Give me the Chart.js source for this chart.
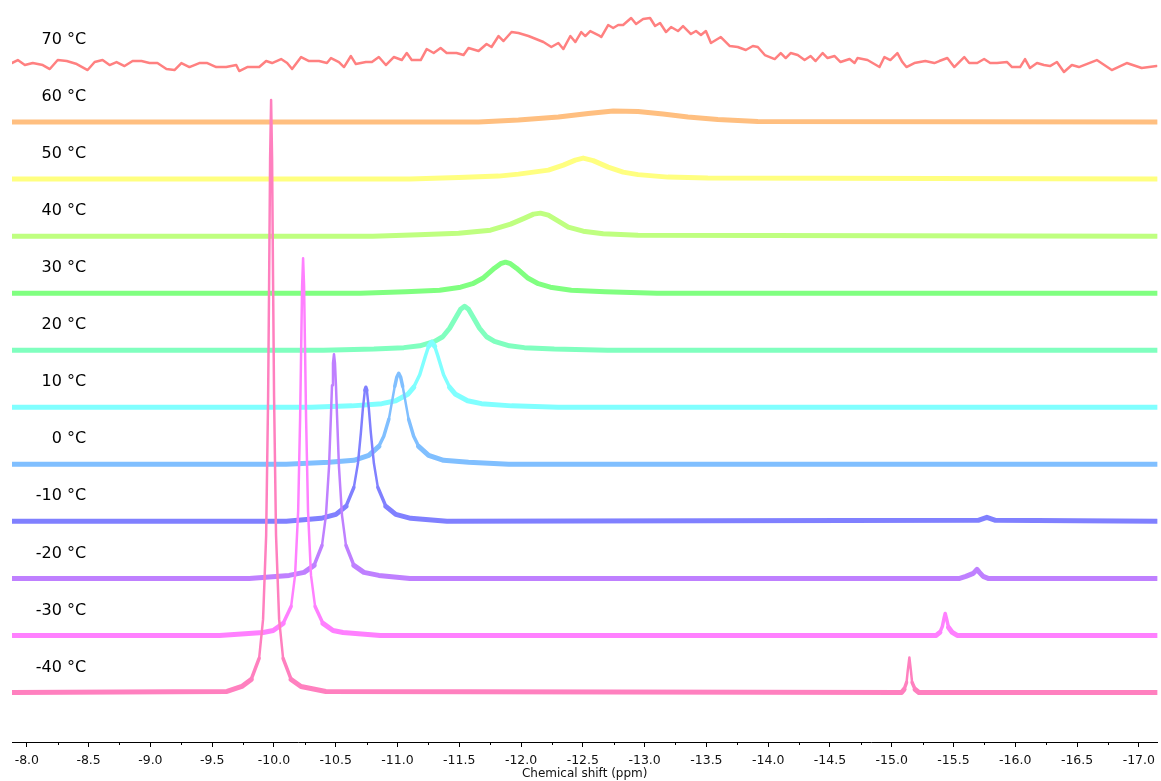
<!DOCTYPE html>
<html>
<head>
<meta charset="utf-8">
<title>Variable temperature spectra</title>
<script src="https://cdn.jsdelivr.net/npm/chart.js@4.4.1/dist/chart.umd.min.js"></script>
<style>
  html, body { margin: 0; padding: 0; background: #fff; }
  #wrap { width: 1161px; height: 781px; position: relative; }
</style>
</head>
<body>
<div id="wrap"><canvas id="nmrChart"></canvas></div>
<script>
// temperatures, bottom trace first
const tempLabels = ['-40 °C', '-30 °C', '-20 °C', '-10 °C', '0 °C', '10 °C', '20 °C', '30 °C', '40 °C', '50 °C', '60 °C', '70 °C'];
const traceColors = ['#ff80bf', '#ff80ff', '#bf80ff', '#8080ff', '#80bfff', '#80ffff', '#80ffbf', '#80ff80', '#bfff80', '#ffff80', '#ffbf80', '#ff8080'];

// [chemical shift (ppm), intensity above baseline]
const specM40 = [[-7.88,0],[-9.62,1],[-9.74,6],[-9.816,13],[-9.880,34],[-9.912,73],[-9.937,157],[-9.953,296],[-9.961,410],[-9.969,533],[-9.977,592],[-9.985,533],[-9.993,410],[-10.001,296],[-10.017,157],[-10.042,73],[-10.074,34],[-10.139,13],[-10.219,6],[-10.42,1],[-15.08,0],[-15.10,3],[-15.12,10],[-15.13,22],[-15.143,35],[-15.155,22],[-15.165,10],[-15.19,3],[-15.22,0],[-17.15,0]];
const specM30 = [[-7.88,0],[-9.56,0],[-9.913,3],[-9.994,5],[-10.074,12],[-10.139,29],[-10.171,60],[-10.196,124],[-10.212,218],[-10.220,284],[-10.228,349],[-10.236,377],[-10.244,349],[-10.252,284],[-10.260,218],[-10.276,124],[-10.300,60],[-10.333,29],[-10.397,12],[-10.478,5],[-10.559,3],[-10.86,0],[-15.36,0],[-15.39,3],[-15.41,9],[-15.425,18],[-15.433,22],[-15.445,16],[-15.46,8],[-15.49,3],[-15.53,0],[-17.15,0]];
const specM20 = [[-7.88,0],[-9.80,0],[-10.123,3],[-10.244,6],[-10.325,13],[-10.389,33],[-10.421,63],[-10.446,112],[-10.462,165],[-10.470,193],[-10.478,215],[-10.486,224],[-10.494,215],[-10.502,193],[-10.510,165],[-10.526,112],[-10.551,63],[-10.583,33],[-10.647,13],[-10.728,6],[-10.849,3],[-11.10,0],[-15.55,0],[-15.60,2],[-15.66,5],[-15.69,9],[-15.71,6],[-15.74,2],[-15.78,0],[-17.15,0]];
const specM10 = [[-7.88,0],[-10.10,0],[-10.381,3],[-10.502,7],[-10.583,15],[-10.647,34],[-10.680,58],[-10.704,89],[-10.720,113],[-10.736,131],[-10.744,134],[-10.752,131],[-10.768,113],[-10.784,89],[-10.809,58],[-10.841,34],[-10.906,15],[-10.986,7],[-11.107,3],[-11.40,0],[-15.70,1],[-15.77,4],[-15.84,1],[-17.15,0]];
const spec0 = [[-7.88,0],[-10.10,0],[-10.446,2],[-10.647,4],[-10.768,9],[-10.849,18],[-10.889,28],[-10.930,45],[-10.962,67],[-10.978,78],[-10.994,87],[-11.010,91],[-11.026,87],[-11.042,78],[-11.058,67],[-11.090,45],[-11.131,28],[-11.171,18],[-11.252,9],[-11.373,4],[-11.575,2],[-11.90,0],[-17.15,0]];
const spec10 = [[-7.88,0],[-10.30,0],[-10.631,1.4],[-10.873,3.6],[-10.986,6.5],[-11.083,13],[-11.131,20],[-11.180,32.5],[-11.228,52],[-11.252,61],[-11.277,65],[-11.301,61],[-11.325,52],[-11.373,32.5],[-11.422,20],[-11.470,13],[-11.567,6.5],[-11.680,3.6],[-11.923,1.4],[-12.30,0],[-17.15,0]];
const spec20 = [[-7.88,0],[-10.40,0],[-10.809,1.2],[-11.051,2.6],[-11.180,4.4],[-11.301,8.8],[-11.366,13.5],[-11.422,22],[-11.478,34],[-11.511,41],[-11.543,44],[-11.575,41],[-11.608,34],[-11.664,22],[-11.721,13.5],[-11.785,8.8],[-11.906,4.4],[-12.027,2.6],[-12.269,1.2],[-12.70,0],[-17.15,0]];
const spec30 = [[-7.88,0],[-10.70,0],[-11.067,1.5],[-11.341,3],[-11.511,6],[-11.608,9.5],[-11.697,15.5],[-11.785,25],[-11.834,29.5],[-11.874,31],[-11.914,29.5],[-11.963,25],[-12.051,15.5],[-12.140,9.5],[-12.237,6],[-12.407,3],[-12.681,1.5],[-13.10,0],[-17.15,0]];
const spec40 = [[-7.88,0],[-10.80,0],[-11.172,1.5],[-11.495,3],[-11.753,6],[-11.915,12],[-12.020,17.5],[-12.101,22],[-12.157,23],[-12.221,21],[-12.302,15],[-12.382,9],[-12.503,5],[-12.665,2.5],[-12.947,1],[-17.15,0]];
const spec50 = [[-7.88,0],[-11.10,0],[-11.494,1.5],[-11.818,3],[-11.979,5],[-12.221,9],[-12.342,14],[-12.439,19],[-12.503,21],[-12.584,18.5],[-12.705,12],[-12.826,7],[-12.947,4.5],[-13.189,2],[-13.512,1],[-17.15,0]];
const spec60 = [[-7.88,0],[-11.656,0],[-11.979,2],[-12.302,5],[-12.544,8.5],[-12.746,11],[-12.947,10.5],[-13.149,8],[-13.351,5],[-13.593,2.5],[-13.916,0.5],[-17.15,0]];
const spec70 = [[-7.879,2],[-7.927,5],[-7.984,0],[-8.048,2],[-8.129,0],[-8.186,-4],[-8.250,5],[-8.323,4],[-8.404,1],[-8.492,-5],[-8.549,3],[-8.613,5],[-8.670,0],[-8.726,3],[-8.791,-1],[-8.856,4],[-8.928,4],[-8.993,2],[-9.057,2],[-9.130,-4],[-9.195,-5],[-9.251,2],[-9.316,-2],[-9.396,2],[-9.461,2],[-9.533,-2],[-9.614,-2],[-9.695,0],[-9.719,-6],[-9.784,-2],[-9.881,-2],[-9.937,4],[-9.985,2],[-10.058,6],[-10.107,2],[-10.147,-4],[-10.220,8],[-10.284,4],[-10.365,4],[-10.429,2],[-10.462,7],[-10.526,3],[-10.567,-2],[-10.623,9],[-10.663,1],[-10.744,3],[-10.793,3],[-10.849,8],[-10.906,0],[-10.970,8],[-11.035,5],[-11.075,12],[-11.115,5],[-11.188,5],[-11.236,16],[-11.293,12],[-11.349,17],[-11.398,12],[-11.478,12],[-11.535,10],[-11.575,17],[-11.656,14],[-11.721,21],[-11.761,18],[-11.818,29],[-11.858,24],[-11.923,33],[-11.979,32],[-12.060,29],[-12.181,23],[-12.245,18],[-12.302,22],[-12.342,16],[-12.399,29],[-12.439,23],[-12.487,33],[-12.520,29],[-12.560,34],[-12.625,30],[-12.649,28],[-12.705,40],[-12.746,37],[-12.786,40],[-12.826,40],[-12.891,47],[-12.931,41],[-12.988,46],[-13.044,47],[-13.085,39],[-13.125,42],[-13.173,33],[-13.214,38],[-13.270,34],[-13.311,39],[-13.375,31],[-13.416,34],[-13.456,30],[-13.496,34],[-13.537,22],[-13.617,28],[-13.690,19],[-13.754,18],[-13.819,15],[-13.876,19],[-13.916,18],[-13.973,10],[-14.053,6],[-14.102,12],[-14.142,7],[-14.182,12],[-14.239,10],[-14.295,5],[-14.344,9],[-14.384,4],[-14.441,12],[-14.481,7],[-14.538,9],[-14.586,3],[-14.659,6],[-14.699,2],[-14.723,7],[-14.804,5],[-14.901,-2],[-14.941,8],[-14.989,5],[-15.046,12],[-15.086,3],[-15.119,-2],[-15.183,2],[-15.272,4],[-15.345,2],[-15.385,4],[-15.450,7],[-15.506,-2],[-15.587,8],[-15.627,2],[-15.692,2],[-15.748,6],[-15.797,2],[-15.853,2],[-15.934,3],[-15.974,-2],[-16.039,-2],[-16.079,6],[-16.119,-3],[-16.176,2],[-16.232,0],[-16.281,-1],[-16.337,3],[-16.394,-7],[-16.458,0],[-16.515,-2],[-16.660,5],[-16.781,-5],[-16.902,2],[-17.023,-3],[-17.144,-1]];

const spectra = [specM40, specM30, specM20, specM10, spec0, spec10, spec20, spec30, spec40, spec50, spec60, spec70];

// x axis
const ppmMin = -17.15;
const ppmMax = -7.88;
const majorStep = 0.5;
const minorStep = 0.25;

// layout of the stack
const SPACING = 57;      // vertical offset between traces
const LABEL_RISE = 25;   // label height above its baseline
const LABEL_PPM = -8.48; // right edge of the labels

const isMajor = v => Math.abs(v / majorStep - Math.round(v / majorStep)) < 1e-6;

// thin strokes on the steep flanks, thick band on the noisy baseline
const segWidth = ctx => {
    const dx = Math.abs(ctx.p1.x - ctx.p0.x) || 0.1;
    const s = Math.abs(ctx.p1.y - ctx.p0.y) / dx;
    if (s < 2) return 5;
    if (s < 5) return 3.5;
    return 2.5;
};

const datasets = spectra.map((spec, i) => {
    const smooth = i === spectra.length - 1;
    return {
        label: tempLabels[i],
        data: spec.map(([p, v]) => ({ x: p, y: i * SPACING + v })),
        borderColor: traceColors[i],
        borderWidth: smooth ? 2.5 : 5,
        borderCapStyle: 'round',
        borderJoinStyle: 'round',
        pointRadius: 0,
        tension: 0,
        fill: false,
        segment: smooth ? {} : { borderWidth: segWidth }
    };
});

const stackLabels = {
    id: 'stackLabels',
    afterDraw(chart) {
        const { ctx, scales: { x, y } } = chart;
        ctx.save();
        // temperature labels
        ctx.font = '16px "DejaVu Sans"';
        ctx.fillStyle = '#000';
        ctx.textAlign = 'right';
        ctx.textBaseline = 'middle';
        tempLabels.forEach((t, i) => {
            ctx.fillText(t, x.getPixelForValue(LABEL_PPM), y.getPixelForValue(i * SPACING + LABEL_RISE));
        });
        // minor ticks
        ctx.strokeStyle = '#000';
        ctx.lineWidth = 1;
        ctx.beginPath();
        x.ticks.forEach(t => {
            if (isMajor(t.value)) return;
            const px = Math.round(x.getPixelForValue(t.value)) + 0.5;
            ctx.moveTo(px, x.top);
            ctx.lineTo(px, x.top + 3);
        });
        ctx.stroke();
        ctx.restore();
    }
};

new Chart(document.getElementById('nmrChart'), {
    type: 'line',
    data: { datasets },
    plugins: [stackLabels],
    options: {
        responsive: true,
        maintainAspectRatio: false,
        animation: false,
        layout: { padding: { left: 12, right: 0, top: 0, bottom: 0 } },
        plugins: {
            legend: { display: false },
            tooltip: { enabled: false }
        },
        scales: {
            x: {
                type: 'linear',
                reverse: true,
                min: ppmMin,
                max: ppmMax,
                afterFit: scale => { scale.height = 39; },
                border: { display: true, color: '#000', width: 1 },
                grid: {
                    drawOnChartArea: false,
                    drawTicks: true,
                    tickLength: 5,
                    color: ctx => (ctx.tick && isMajor(ctx.tick.value)) ? '#000' : 'rgba(0,0,0,0)'
                },
                ticks: {
                    stepSize: minorStep,
                    includeBounds: false,
                    autoSkip: false,
                    maxRotation: 0,
                    padding: 6,
                    color: '#111',
                    font: { family: 'DejaVu Sans', size: 12.5 },
                    callback: v => isMajor(v) ? v.toFixed(1) : ''
                },
                title: {
                    display: true,
                    text: 'Chemical shift (ppm)',
                    color: '#111',
                    font: { family: 'DejaVu Sans', size: 12 },
                    padding: { top: 0, bottom: 0 }
                }
            },
            y: {
                type: 'linear',
                display: false,
                min: -49.5,
                max: 692
            }
        }
    }
});
</script>
</body>
</html>
